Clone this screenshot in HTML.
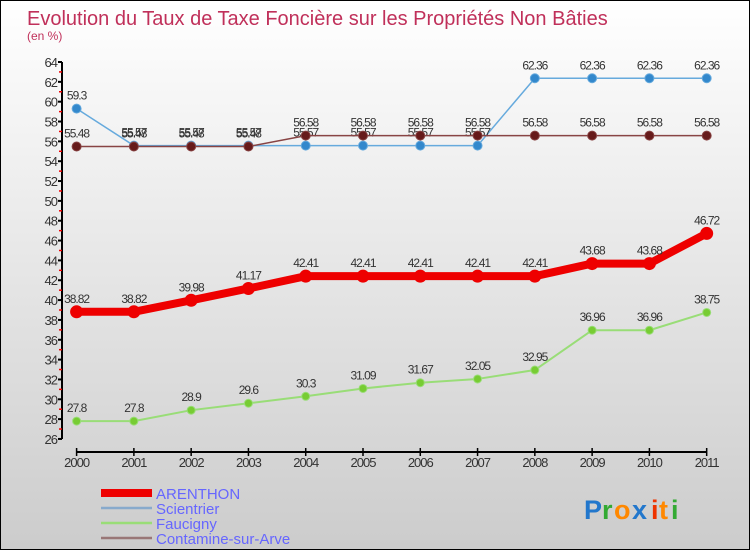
<!DOCTYPE html>
<html><head><meta charset="utf-8"><style>
body{margin:0;}
#wrap{position:relative;width:748px;height:548px;border:1px solid #000;background:linear-gradient(#ffffff,#cccccc);overflow:hidden;font-family:"Liberation Sans",sans-serif;}
</style></head><body>
<div id="wrap">
<svg id="chart" width="748" height="548" style="position:absolute;left:0;top:0">
<text x="26" y="24" font-size="20" fill="#c0305a">Evolution du Taux de Taxe Foncière sur les Propriétés Non Bâties</text>
<text x="26" y="39" font-size="12" fill="#c0305a">(en %)</text>
<g id="axes"></g><g id="series"></g>
<g>
<rect x="100" y="488" width="51" height="8" fill="#e00"/>
<text x="155" y="498" font-size="15" fill="#6666ff">ARENTHON</text>
<line x1="100" y1="507" x2="151" y2="507" stroke="#88aacc" stroke-width="2.5"/>
<text x="155" y="513" font-size="15" fill="#6666ff">Scientrier</text>
<line x1="100" y1="522" x2="151" y2="522" stroke="#99dd77" stroke-width="2.5"/>
<text x="155" y="528" font-size="15" fill="#6666ff">Faucigny</text>
<line x1="100" y1="537" x2="151" y2="537" stroke="#997777" stroke-width="2.5"/>
<text x="155" y="543" font-size="15" fill="#6666ff">Contamine-sur-Arve</text>
</g>
<g font-size="27" font-weight="bold">
<text x="583" y="518" fill="#2277cc">P</text><text x="601" y="518" fill="#33aa33">r</text><text x="613" y="518" fill="#ff8800">o</text><text x="631" y="518" fill="#2277cc">x</text><text x="650" y="518" fill="#ee3300">i</text><text x="658" y="518" fill="#ff8800">t</text><text x="670" y="518" fill="#33aa33">i</text>
</g>
</svg>
</div>
<script>
const years=["2000","2001","2002","2003","2004","2005","2006","2007","2008","2009","2010","2011"];
const arenthon=[38.82,38.82,39.98,41.17,42.41,42.41,42.41,42.41,42.41,43.68,43.68,46.72];
const scientrier=[59.3,55.57,55.57,55.57,55.57,55.57,55.57,55.57,62.36,62.36,62.36,62.36];
const faucigny=[27.8,27.8,28.9,29.6,30.3,31.09,31.67,32.05,32.95,36.96,36.96,38.75];
const contamine=[55.48,55.48,55.48,55.48,56.58,56.58,56.58,56.58,56.58,56.58,56.58,56.58];
const yTicks=[26,28,30,32,34,36,38,40,42,44,46,48,50,52,54,56,58,60,62,64];
const NS="http://www.w3.org/2000/svg";
const X=i=>75.6+i*57.28;
const Y=v=>61+(64-v)*9.92;
function mk(t,a,p){const e=document.createElementNS(NS,t);for(const k in a)e.setAttribute(k,a[k]);p.appendChild(e);return e;}
const ax=document.getElementById('axes');
const yl=mk('line',{x1:61,y1:Y(64),x2:61,y2:Y(26),stroke:'#000','stroke-width':2},ax);


yTicks.forEach(v=>{
 mk('line',{x1:57,y1:Y(v),x2:61,y2:Y(v),stroke:'#000','stroke-width':2},ax);
 if(v<64) mk('line',{x1:58,y1:Y(v+1),x2:61,y2:Y(v+1),stroke:'#e00','stroke-width':1.5},ax);
 const t=mk('text',{x:56,y:Y(v)+5,'text-anchor':'end','font-size':13,fill:'#333','letter-spacing':'-1'},ax);
 t.textContent=v;
 
 
});
const xl=mk('line',{x1:X(0),y1:451,x2:X(11),y2:451,stroke:'#000','stroke-width':2},ax);


years.forEach((y,i)=>{
 mk('line',{x1:X(i),y1:447,x2:X(i),y2:455,stroke:'#000','stroke-width':1.5},ax);
 const t=mk('text',{x:X(i),y:466,'text-anchor':'middle','font-size':13,fill:'#333','letter-spacing':'-1'},ax);
 t.textContent=y;
 
 
});
const sg=document.getElementById('series');
function series(name,vals,color,fill,w,r){
 const g=mk('g',{},sg);
 
 
 const pl=mk('polyline',{points:vals.map((v,i)=>X(i)+','+Y(v)).join(' '),fill:'none',stroke:color,'stroke-width':w,'stroke-linejoin':'round'},g);
 
 
 vals.forEach((v,i)=>{
  const c=mk('circle',{cx:X(i),cy:Y(v),r:r,fill:fill,stroke:color,'stroke-width':1},g);
  
  
  const t=mk('text',{x:X(i),y:Y(v)-9,'text-anchor':'middle','font-size':12,fill:'#333','letter-spacing':'-1'},g);
  t.textContent=v;
  
  
 });
}
series('faucigny',faucigny,'#99dd77','#77cc33',2,4);
series('scientrier',scientrier,'#66aadd','#3388cc',1.5,4.5);
series('contamine',contamine,'#884444','#661a1a',1.5,4.5);
series('arenthon',arenthon,'#ee0000','#ee0000',8,6);
</script>
</body></html>
